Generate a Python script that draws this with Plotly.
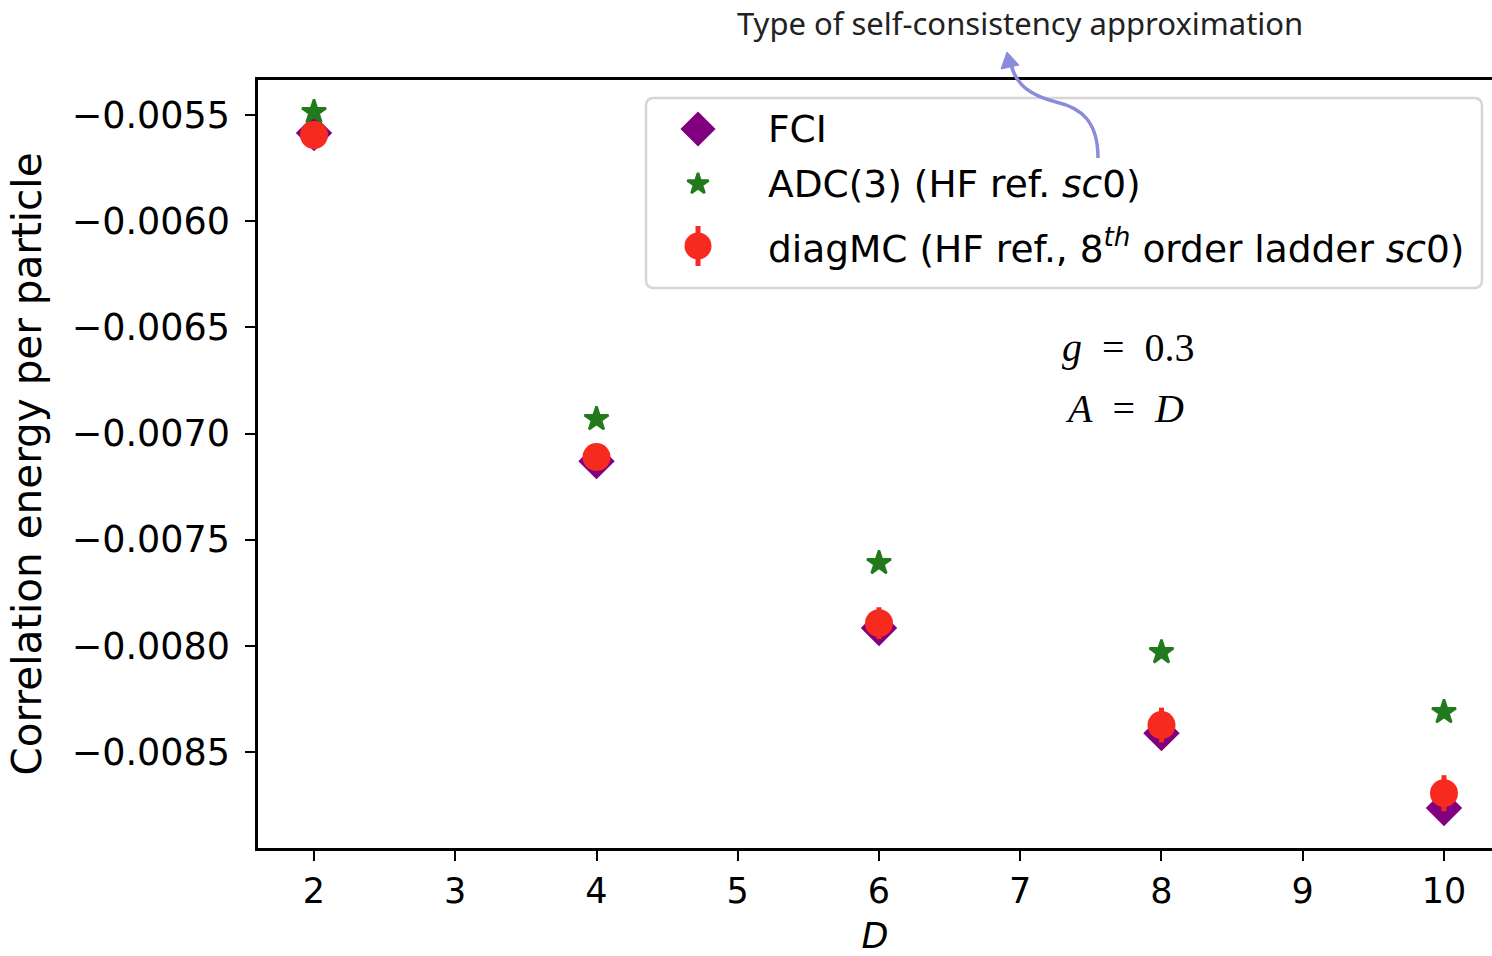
import plotly.graph_objects as go

# ---------------- data ----------------
D = [2, 4, 6, 8, 10]
fci = [-0.005585, -0.007130, -0.007916, -0.008411, -0.008764]
adc3 = [-0.005486, -0.006932, -0.007610, -0.008030, -0.008312]
diagmc = [-0.005594, -0.007111, -0.007893, -0.008373, -0.008694]
diagmc_err = [0.00002, 0.00003, 0.000075, 0.000082, 0.000085]
yticks = [-0.0085, -0.0080, -0.0075, -0.0070, -0.0065, -0.0060, -0.0055]
xticks = [2, 3, 4, 5, 6, 7, 8, 9, 10]

legend_names = ["FCI", "ADC(3) (HF ref. <i>sc</i>0)",
                "diagMC (HF ref., 8<sup><i>th</i></sup> order ladder <i>sc</i>0)"]

PURPLE = "#800080"
GREEN = "#227a1c"
RED = "#f62a1f"

W, H = 1492, 956
ML, MR, MT, MB = 258, 0, 80, 108
PW, PH = W - ML - MR, H - MT - MB


def px(x):
    return (x - ML) / PW


def py(y):
    return (H - MB - y) / PH


fig = go.Figure()

fig.add_trace(go.Scatter(x=D, y=fci, mode="markers", name="FCI", showlegend=False,
                         marker=dict(symbol="diamond", size=28, color=PURPLE, line=dict(width=0))))
fig.add_trace(go.Scatter(x=D, y=adc3, mode="markers", showlegend=False,
                         marker=dict(symbol="star", size=18, color=GREEN,
                                     line=dict(width=2.5, color=GREEN))))
fig.add_trace(go.Scatter(x=D, y=diagmc, mode="markers", showlegend=False,
                         marker=dict(symbol="circle", size=28, color=RED, line=dict(width=0)),
                         error_y=dict(type="data", array=diagmc_err, color=RED, thickness=5, width=0)))

# ---------------- manual legend (overlay axis in paper units) ----------------
leg_x = px(698)
leg_rows = [py(129), py(184), py(246)]
fig.add_trace(go.Scatter(x=[leg_x], y=[leg_rows[0]], xaxis="x2", yaxis="y2", mode="markers",
                         showlegend=False, hoverinfo="skip",
                         marker=dict(symbol="diamond", size=27, color=PURPLE, line=dict(width=0))))
fig.add_trace(go.Scatter(x=[leg_x], y=[leg_rows[1]], xaxis="x2", yaxis="y2", mode="markers",
                         showlegend=False, hoverinfo="skip",
                         marker=dict(symbol="star", size=16, color=GREEN,
                                     line=dict(width=2.5, color=GREEN))))
fig.add_trace(go.Scatter(x=[leg_x], y=[leg_rows[2]], xaxis="x2", yaxis="y2", mode="markers",
                         showlegend=False, hoverinfo="skip",
                         marker=dict(symbol="circle", size=27, color=RED, line=dict(width=0)),
                         error_y=dict(type="constant", value=20 / PH, color=RED, thickness=5, width=0)))

annotations = []
for name, yy in zip(legend_names, leg_rows):
    annotations.append(dict(x=px(766), y=yy, xref="paper", yref="paper", text=name,
                            showarrow=False, xanchor="left", yanchor="middle",
                            font=dict(family="DejaVu Sans", size=37.5, color="black")))

annotations.append(dict(x=px(1060), y=py(347), xref="paper", yref="paper",
                        text="<i>g</i>\u2002=\u20020.3", showarrow=False, xanchor="left",
                        yanchor="middle",
                        font=dict(family="Liberation Serif", size=40, color="black")))
annotations.append(dict(x=px(1063), y=py(408), xref="paper", yref="paper",
                        text="<i>A</i>\u2002=\u2002<i>D</i>", showarrow=False, xanchor="left",
                        yanchor="middle",
                        font=dict(family="Liberation Serif", size=40, color="black")))
annotations.append(dict(x=px(1020), y=py(23), xref="paper", yref="paper",
                        text="Type of self-consistency approximation", showarrow=False,
                        xanchor="center", yanchor="middle",
                        font=dict(family="Noto Sans", size=31, color="#222222")))


def pt(x, y):
    return f"{px(x):.5f},{py(y):.5f}"


shapes = []
# legend frame (rounded)
x0, x1, y0, y1, r = 646, 1482, 98, 288, 8
frame = (f"M {pt(x0 + r, y0)} L {pt(x1 - r, y0)} Q {pt(x1, y0)} {pt(x1, y0 + r)} "
         f"L {pt(x1, y1 - r)} Q {pt(x1, y1)} {pt(x1 - r, y1)} L {pt(x0 + r, y1)} "
         f"Q {pt(x0, y1)} {pt(x0, y1 - r)} L {pt(x0, y0 + r)} Q {pt(x0, y0)} {pt(x0 + r, y0)} Z")
shapes.append(dict(type="path", xref="paper", yref="paper", path=frame, layer="below",
                   line=dict(color="#d6d6d6", width=2.5), fillcolor="rgba(255,255,255,0.85)"))
# curved arrow
curve = (f"M {pt(1098, 158)} C {pt(1098, 122)} {pt(1082, 108)} {pt(1056, 102)} "
         f"C {pt(1032, 96)} {pt(1016, 86)} {pt(1011, 64)}")
shapes.append(dict(type="path", xref="paper", yref="paper", path=curve, layer="above",
                   line=dict(color="#8b8bdc", width=3.5)))
head = f"M {pt(1007, 52)} L {pt(1001, 69)} L {pt(1019, 65)} Z"
shapes.append(dict(type="path", xref="paper", yref="paper", path=head, layer="above",
                   line=dict(color="#8b8bdc", width=1), fillcolor="#8b8bdc"))

fig.update_layout(
    width=W, height=H,
    margin=dict(l=ML, r=MR, t=MT, b=MB, pad=0),
    paper_bgcolor="white", plot_bgcolor="white",
    showlegend=False,
    annotations=annotations,
    shapes=shapes,
    xaxis=dict(range=[1.6035, 10.34], tickmode="array", tickvals=xticks,
               ticktext=[str(t) for t in xticks],
               showgrid=False, zeroline=False, showline=True, linecolor="black", linewidth=2.5,
               mirror=True, ticks="outside", ticklen=10, tickwidth=2, tickcolor="black",
               ticklabelstandoff=0,
               tickfont=dict(family="DejaVu Sans", size=35, color="black"),
               title=dict(text="<i>D</i>", font=dict(family="DejaVu Sans", size=35, color="black"),
                          standoff=14)),
    yaxis=dict(range=[-0.008952, -0.005335], tickmode="array", tickvals=yticks,
               ticktext=[f"{t:.4f}".replace("-", "\u2212") for t in yticks],
               showgrid=False, zeroline=False, showline=True, linecolor="black", linewidth=2.5,
               mirror=False, ticks="outside", ticklen=10, tickwidth=2, tickcolor="black",
               ticklabelstandoff=8,
               tickfont=dict(family="DejaVu Sans", size=36.5, color="black"),
               title=dict(text="Correlation energy per particle",
                          font=dict(family="DejaVu Sans", size=40.5, color="black"), standoff=18)),
    xaxis2=dict(overlaying="x", range=[0, 1], visible=False, domain=[0, 1]),
    yaxis2=dict(overlaying="y", range=[0, 1], visible=False, domain=[0, 1]),
)

fig.write_html("out.html")
